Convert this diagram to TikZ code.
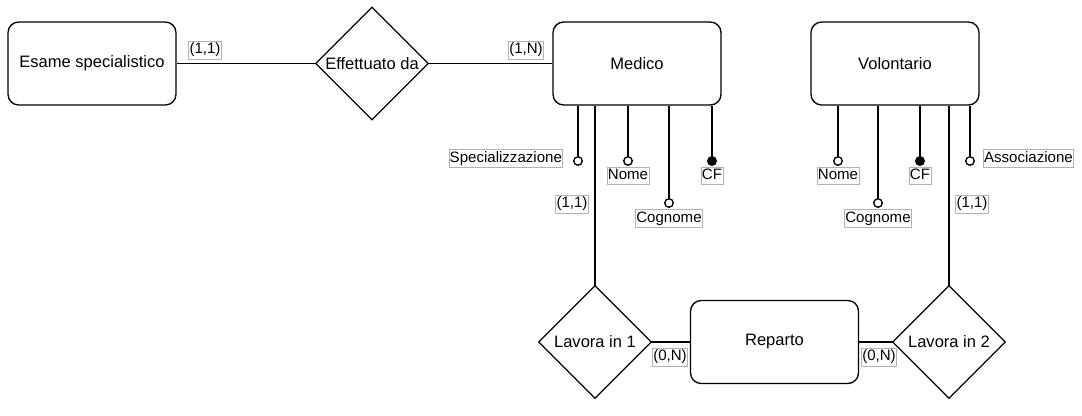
\documentclass[tikz,border=0pt]{standalone}
\usepackage{fontspec}
\setmainfont{Liberation Sans}
\usetikzlibrary{positioning}

\tikzset{
  entity/.style={draw, line width=1pt, rounded corners=8pt, minimum width=126pt,
    minimum height=62.25pt, inner sep=0pt, font=\fontsize{12.4}{14}\selectfont},
  relation/.style={minimum width=84pt, minimum height=84pt, inner sep=0pt,
    font=\fontsize{12.4}{14}\selectfont},
  attr/.style={circle, draw, line width=1pt, fill=white, minimum size=6.4pt, inner sep=0pt},
  keyattr/.style={attr, fill=black},
  tag/.style={draw=black!30, line width=0.5pt, inner xsep=0.6pt, inner ysep=1.3pt,
    text height=8.3pt, text depth=2.4pt, font=\fontsize{11.3}{13}\selectfont},
  edge/.style={line width=1pt},
}

\begin{document}
\begin{tikzpicture}[x=0.75pt, y=-0.75pt]
  \useasboundingbox (0,0) rectangle (1082,415);

  % Entities
  \node[entity] (esame) at (92,63.5) {Esame specialistico};
  \node[entity] (medico) at (637,63.5) {Medico};
  \node[entity] (volontario) at (895,63.5) {Volontario};
  \node[entity] (reparto) at (774.5,342) {Reparto};

  % Relationships (diamonds drawn round the nodes)
  \node[relation] (effettuato) at (372,63.5) {Effettuato da};
  \node[relation] (lavora1) at (595,342) {Lavora in 1};
  \node[relation] (lavora2) at (949,342) {Lavora in 2};
  \foreach \r in {effettuato,lavora1,lavora2}
    \draw[edge] (\r.north) -- (\r.east) -- (\r.south) -- (\r.west) -- cycle;

  % Links between entities and relationships
  \draw[edge] (esame.east) -- (effettuato.west);
  \draw[edge] (effettuato.east) -- (medico.west);
  \draw[edge] (lavora1.north) -- (lavora1.north |- medico.south);
  \draw[edge] (lavora2.north) -- (lavora2.north |- volontario.south);
  \draw[edge] (lavora1.east) -- (reparto.west);
  \draw[edge] (reparto.east) -- (lavora2.west);

  % Attributes of Medico
  \node[attr] (specM) at (578,161) {};
  \node[attr] (nomeM) at (628,161) {};
  \node[attr] (cognomeM) at (669,203) {};
  \node[keyattr] (cfM) at (712,161) {};
  \foreach \a in {specM,nomeM,cognomeM,cfM}
    \draw[edge] (\a.north) -- (\a.north |- medico.south);

  % Attributes of Volontario
  \node[attr] (nomeV) at (838,161) {};
  \node[attr] (cognomeV) at (878,203) {};
  \node[keyattr] (cfV) at (920,161) {};
  \node[attr] (assV) at (970,161) {};
  \foreach \a in {nomeV,cognomeV,cfV,assV}
    \draw[edge] (\a.north) -- (\a.north |- volontario.south);

  % Attribute names
  \node[tag, left=7.5pt of specM, yshift=2.2pt] (tSpecM) {Specializzazione};
  \node[tag, below=0.5pt of nomeM] (tNomeM) {Nome};
  \node[tag, below=1pt of cognomeM] (tCognomeM) {Cognome};
  \node[tag, below=0.5pt of cfM] (tCfM) {CF};
  \node[tag, below=0.5pt of nomeV] (tNomeV) {Nome};
  \node[tag, below=1pt of cognomeV] (tCognomeV) {Cognome};
  \node[tag, below=0.5pt of cfV] (tCfV) {CF};
  \node[tag, right=6pt of assV, yshift=2.2pt] (tAssV) {Associazione};

  % Cardinalities
  \node[tag] (card1) at (205,50) {(1,1)};
  \node[tag] (card2) at (526,50) {(1,N)};
  \node[tag] (card3) at (572,204) {(1,1)};
  \node[tag] (card4) at (972,204) {(1,1)};
  \node[tag] (card5) at (670,357) {(0,N)};
  \node[tag] (card6) at (879,357) {(0,N)};
\end{tikzpicture}
\end{document}
